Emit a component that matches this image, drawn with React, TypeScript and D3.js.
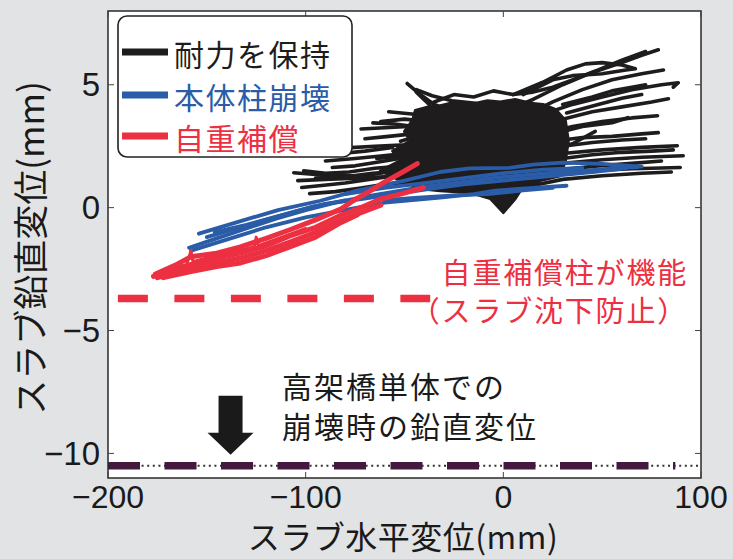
import React from "react";
import * as d3 from "d3";

type Pt = [number, number];

const W = 733;
const H = 559;
const plot = { left: 108, right: 701, top: 11, bottom: 478 };

const xTicks = [-200, -100, 0, 100];
const yTicks = [5, 0, -5, -10];

const legendItems = [
  { label: "耐力を保持", color: "#1e1c1c" },
  { label: "本体柱崩壊", color: "#2a5ca8" },
  { label: "自重補償", color: "#ec3042" },
];

// black: columns keep capacity (hysteresis traces)
const blackTraces: Pt[][] = [
  [[-48.6, 5.05], [-42, 4.6], [-35, 4.2], [-25, 3.9], [-10, 3.7], [0, 3.9], [15, 4.4], [30, 5.0], [45, 5.5], [60, 5.9], [70, 6.2], [78.4, 6.42]],
  [[10, 4.6], [25, 5.2], [35, 5.37], [50, 5.45], [62, 5.6], [66.8, 5.65], [60, 5.8], [50, 5.9], [41.5, 5.85], [32, 5.6], [20, 5.1], [5, 4.6]],
  [[-44, 4.7], [-35, 4.0], [-22, 3.5], [-5, 3.3], [10, 3.7], [25, 4.3], [40, 4.8], [55, 5.2], [70, 5.45], [81, 5.6]],
  [[-52, 2.7], [-40, 3.0], [-25, 3.2], [-10, 3.1], [5, 3.3], [20, 3.8], [35, 4.2], [50, 4.5], [65, 4.8], [80, 5.0], [88.5, 5.08], [86, 4.9]],
  [[-66, 3.45], [-55, 3.4], [-45, 3.3], [-30, 3.0], [-15, 2.8], [0, 2.9], [15, 3.3], [30, 3.6], [45, 3.9], [60, 4.1], [75, 4.3], [83.5, 4.43]],
  [[-62, 3.5], [-50, 3.6], [-38, 3.5], [-25, 3.3], [-10, 2.9], [5, 2.7], [20, 3.0], [35, 3.3], [50, 3.5], [65, 3.65], [78, 3.74]],
  [[-64, 2.0], [-50, 2.1], [-35, 2.3], [-20, 2.5], [-5, 2.4], [10, 2.5], [25, 2.7], [40, 2.85], [55, 2.9], [70, 3.0], [78.4, 3.05]],
  [[-86.5, 1.63], [-75, 1.7], [-60, 1.9], [-45, 2.1], [-30, 2.2], [-15, 2.0], [0, 1.9], [15, 2.1], [30, 2.2], [50, 2.35], [70, 2.45], [88, 2.52]],
  [[-101, 1.5], [-90, 1.4], [-78, 1.45], [-65, 1.6], [-50, 1.7], [-35, 1.75], [-20, 1.6], [-5, 1.3], [10, 1.6], [30, 1.8], [50, 1.95], [70, 2.05], [91, 2.11]],
  [[-102, 0.82], [-92, 0.9], [-80, 1.0], [-68, 1.15], [-55, 1.3], [-40, 1.35], [-25, 1.3], [-10, 1.1], [5, 1.2], [25, 1.4], [45, 1.5], [65, 1.58], [89.5, 1.63]],
  [[-98, 0.57], [-85, 0.65], [-72, 0.8], [-60, 0.95], [-45, 1.05], [-30, 1.05], [-15, 0.9], [0, 0.6], [15, 0.9], [30, 1.15], [50, 1.3], [70, 1.4], [85, 1.45]],
  [[-106, 1.42], [-95, 1.35], [-82, 1.3], [-70, 1.3], [-55, 1.5], [-40, 1.6], [-25, 1.7], [-10, 1.8]],
  [[-77, 2.44], [-65, 2.5], [-52, 2.55], [-40, 2.5], [-25, 2.6], [-10, 2.7]],
  [[-58, 3.9], [-45, 3.8], [-32, 3.6], [-20, 3.4]],
  [[-35, 4.3], [-25, 4.6], [-15, 4.5], [-5, 4.75], [5, 4.6], [15, 4.7], [25, 4.9], [35, 5.2], [48, 5.6], [60, 6.0], [72, 6.35]],
  [[-44, 4.8], [-36, 4.55], [-26, 4.35], [-14, 4.25]],
  [[30, 4.2], [45, 4.5], [55, 4.75], [65, 4.9], [72, 5.0]],
  [[25, 3.0], [40, 3.3], [55, 3.45], [63, 3.66]],
  [[20, 2.3], [35, 2.6], [46.5, 3.1]],
  [[-90, 1.9], [-75, 2.0], [-62, 2.1], [-50, 2.2]],
  [[-95, 1.2], [-80, 1.25], [-66, 1.4], [-50, 1.5]],
  [[-104, 1.1], [-90, 1.15], [-75, 1.2], [-60, 1.25]],
  [[-70, 2.8], [-58, 2.9], [-46, 3.0]],
  [[-72, 3.2], [-60, 3.25], [-48, 3.3]],
  [[-82, 2.2], [-70, 2.3], [-56, 2.45]],
  [[30, 2.0], [45, 2.15], [60, 2.25], [75, 2.3], [86, 2.35]],
  [[30, 1.55], [48, 1.7], [65, 1.8], [80, 1.9]],
  [[32, 3.85], [48, 4.2], [60, 4.45], [70, 4.6]],
  [[30, 2.5], [45, 2.65], [60, 2.75], [72, 2.8]],
];

// dense centre of the black traces
const blackCore: Pt[] = [
  [-44.5, 3.95], [-38, 4.1], [-31.9, 4.15], [-24, 4.3], [-16.7, 4.2], [-8, 4.35], [-1.5, 4.3], [6, 4.4], [13.7, 4.25],
  [20, 4.2], [26.3, 4.0], [31.4, 3.54], [32.9, 2.72], [31.4, 1.91], [28.8, 1.3], [18.7, 1.1], [8.6, 0.69], [6.1, 0.37],
  [0, -0.2], [-6.6, 0.37], [-16.7, 0.61], [-31.9, 0.69], [-42, 0.77], [-52, 1.1], [-62.2, 1.5], [-52, 1.91],
  [-56, 2.3], [-47, 2.72], [-50, 3.1], [-46, 3.54],
];

// blue: main column collapse
const blueTraces: Pt[][] = [
  [[-154, -1.06], [-135, -0.6], [-114, -0.1], [-92.6, 0.28], [-74, 0.69], [-50, 1.1], [-32, 1.45], [-17, 1.6], [3, 1.62], [15, 1.75], [30, 1.83], [50, 1.78], [70, 1.67]],
  [[-159, -1.63], [-145, -1.25], [-130, -0.85], [-115, -0.45], [-100, -0.1], [-85, 0.2], [-70, 0.45], [-55, 0.65], [-40, 0.85], [-20, 1.05], [-4, 1.22], [15, 1.35], [30, 1.45], [41.5, 1.5], [55, 1.6], [68, 1.65]],
  [[-158, -1.75], [-140, -1.3], [-120, -0.8], [-100, -0.4], [-82, -0.12], [-60, 0.2], [-32, 0.41], [-15, 0.55], [-4, 0.69], [15, 0.8], [32, 0.89]],
  [[-150, -1.2], [-135, -0.85], [-120, -0.5], [-105, -0.15], [-90, 0.15], [-72, 0.35], [-55, 0.55], [-38, 0.75], [-20, 0.95], [0, 1.1], [20, 1.25], [45, 1.45], [62, 1.6]],
  [[-146, -1.0], [-130, -0.7], [-112, -0.3], [-96, 0.05], [-80, 0.3]],
  [[-60, 0.3], [-45, 0.4], [-25, 0.5], [-8, 0.55], [10, 0.7], [25, 0.8]],
  [[-80, 0.55], [-60, 0.8], [-40, 1.0], [-20, 1.2], [0, 1.4], [20, 1.55], [40, 1.62]],
];

// red: self-weight compensation columns
const redTraces: Pt[][] = [
  [[-176, -2.7], [-165, -2.3], [-158, -2.0], [-145, -1.85], [-133, -1.6], [-120, -1.25], [-108, -0.9], [-95, -0.5], [-82, -0.05], [-76, 0.28], [-68, 0.65], [-60, 1.05], [-52, 1.4], [-43.5, 1.79]],
  [[-177, -2.8], [-165, -2.45], [-150, -2.15], [-133, -1.85], [-120, -1.55], [-108, -1.15], [-95, -0.8], [-82, -0.3], [-72, 0.0], [-62, 0.35], [-52, 0.55], [-40.5, 0.81]],
  [[-175, -2.85], [-160, -2.5], [-145, -2.25], [-133, -2.05], [-120, -1.75], [-108, -1.4], [-95, -1.0], [-82, -0.5], [-72, -0.2], [-62, 0.1]],
  [[-172, -2.85], [-158, -2.6], [-145, -2.4], [-133, -2.25], [-120, -1.95], [-108, -1.6], [-95, -1.2], [-82, -0.6], [-74, -0.3]],
  [[-160, -2.25], [-158, -1.75], [-157, -2.2], [-148, -2.0], [-140, -1.85], [-126, -1.6], [-125, -1.2], [-124, -1.55], [-112, -1.2], [-100, -0.85]],
];

const redLevel = -3.7;
const redLevelRange = [-195, -37];
const collapseLevel = -10.5;
const collapseRange = [-200, 87];
const arrowX = -138;
const arrowRange = [-7.65, -10.05];

const redNote = ["自重補償柱が機能", "（スラブ沈下防止）"];
const blackNote = ["高架橋単体での", "崩壊時の鉛直変位"];

const cjk = "'Noto Sans CJK JP', 'Noto Sans', sans-serif";
const num = "'Liberation Sans', Arial, sans-serif";

export default function App() {
  const x = d3.scaleLinear().domain([-200, 100]).range([plot.left, plot.right]);
  const y = d3.scaleLinear().domain([-11, 8]).range([plot.bottom, plot.top]);
  const line = d3.line<Pt>().x((d) => x(d[0])).y((d) => y(d[1]));
  const area = d3.line<Pt>().x((d) => x(d[0])).y((d) => y(d[1])).curve(d3.curveLinearClosed);

  const ax = x(arrowX);
  const aTop = y(arrowRange[0]);
  const aTip = y(arrowRange[1]);
  const headTop = aTip - 22;
  const arrowPath = `M${ax - 12},${aTop} L${ax + 12},${aTop} L${ax + 12},${headTop} L${ax + 23},${headTop} L${ax},${aTip} L${ax - 23},${headTop} L${ax - 12},${headTop} Z`;

  return (
    <svg width={W} height={H} style={{ position: "absolute", left: 0, top: 0 }}>
      <rect width={W} height={H} fill="#e2e3e5" />
      <defs>
        <clipPath id="plotClip">
          <rect x={plot.left} y={plot.top} width={plot.right - plot.left} height={plot.bottom - plot.top} />
        </clipPath>
      </defs>
      <rect x={plot.left} y={plot.top} width={plot.right - plot.left} height={plot.bottom - plot.top} fill="#fff" />

      <g clipPath="url(#plotClip)" fill="none" strokeLinejoin="round" strokeLinecap="round">
        {blackTraces.map((t, i) => (
          <path key={"k" + i} d={line(t) ?? ""} stroke="#1e1c1c" strokeWidth={3.6} />
        ))}
        <path d={area(blackCore) ?? ""} fill="#1e1c1c" stroke="#1e1c1c" strokeWidth={3} />
        {blueTraces.map((t, i) => (
          <path key={"b" + i} d={line(t) ?? ""} stroke="#2a5ca8" strokeWidth={3.8} />
        ))}
        {redTraces.map((t, i) => (
          <path key={"r" + i} d={line(t) ?? ""} stroke="#ec3042" strokeWidth={i < 4 ? 5 : 3} />
        ))}

        <line x1={x(redLevelRange[0])} x2={x(redLevelRange[1])} y1={y(redLevel)} y2={y(redLevel)}
          stroke="#ec3042" strokeWidth={7.5} strokeDasharray="30 26.5" strokeLinecap="butt" />
        <line x1={x(-200)} x2={x(100)} y1={y(collapseLevel)} y2={y(collapseLevel)}
          stroke="#333" strokeWidth={2} strokeDasharray="2 3.6" strokeLinecap="butt" />
        <line x1={x(collapseRange[0])} x2={x(collapseRange[1])} y1={y(collapseLevel)} y2={y(collapseLevel)}
          stroke="#45193e" strokeWidth={7.5} strokeDasharray="32 24.5" strokeLinecap="butt" />
      </g>

      <path d={arrowPath} fill="#1a1a1a" />

      {/* frame and inward ticks */}
      <rect x={plot.left} y={plot.top} width={plot.right - plot.left} height={plot.bottom - plot.top} fill="none" stroke="#2a2a2a" strokeWidth={1.5} />
      {xTicks.map((t) => (
        <g key={"xt" + t} stroke="#444" strokeWidth={1}>
          <line x1={x(t)} x2={x(t)} y1={plot.bottom} y2={plot.bottom - 6} />
          <line x1={x(t)} x2={x(t)} y1={plot.top} y2={plot.top + 6} />
        </g>
      ))}
      {yTicks.map((t) => (
        <g key={"yt" + t} stroke="#444" strokeWidth={1}>
          <line x1={plot.left} x2={plot.left + 6} y1={y(t)} y2={y(t)} />
          <line x1={plot.right} x2={plot.right - 6} y1={y(t)} y2={y(t)} />
        </g>
      ))}

      {xTicks.map((t) => (
        <text key={"xl" + t} x={x(t)} y={508} textAnchor="middle" fontFamily={num} fontSize={32} fill="#1a1a1a">
          {t < 0 ? "−" + Math.abs(t) : t}
        </text>
      ))}
      {yTicks.map((t) => (
        <text key={"yl" + t} x={100} y={y(t)} textAnchor="end" dominantBaseline="central" fontFamily={num} fontSize={33} fill="#1a1a1a">
          {t < 0 ? "−" + Math.abs(t) : t}
        </text>
      ))}

      <text x={403} y={535} textAnchor="middle" dominantBaseline="central" fontFamily={cjk} fontSize={32} letterSpacing={0.5} fill="#1a1a1a">
        スラブ水平変位(mm)
      </text>
      <text transform="translate(28,248) rotate(-90)" textAnchor="middle" dominantBaseline="central" fontFamily={cjk} fontSize={35} fill="#1a1a1a">
        スラブ鉛直変位(mm)
      </text>

      {/* legend */}
      <rect x={118} y={16} width={234} height={141} rx={9} fill="#fff" stroke="#222" strokeWidth={1.6} />
      {legendItems.map((it, i) => {
        const cy = [53, 96, 137][i];
        return (
          <g key={it.label}>
            <line x1={122} x2={168} y1={cy - 1} y2={cy - 1} stroke={it.color} strokeWidth={7} />
            <text x={174} y={cy} dominantBaseline="central" fontFamily={cjk} fontSize={30} letterSpacing={1.5} fill={it.color}>
              {it.label}
            </text>
          </g>
        );
      })}

      {redNote.map((s, i) => (
        <text key={s} x={688} y={271 + i * 38} textAnchor="end" dominantBaseline="central" fontFamily={cjk} fontSize={29} letterSpacing={1.8} fill="#ec3042">
          {s}
        </text>
      ))}
      {blackNote.map((s, i) => (
        <text key={s} x={282} y={385 + i * 40} dominantBaseline="central" fontFamily={cjk} fontSize={30} letterSpacing={2} fill="#1a1a1a">
          {s}
        </text>
      ))}
    </svg>
  );
}
